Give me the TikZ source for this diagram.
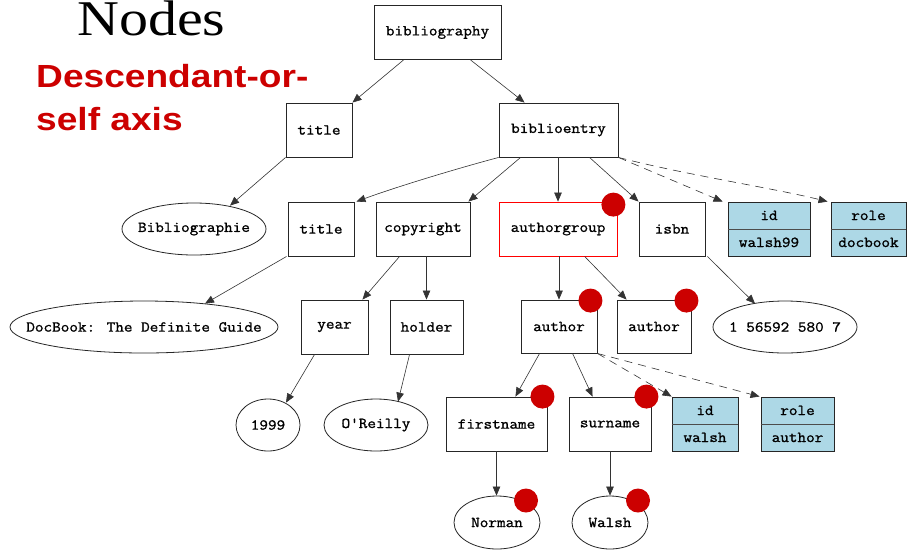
\documentclass[tikz,border=0pt]{standalone}
\usepackage{fontspec}
\usetikzlibrary{arrows.meta,shapes.geometric,calc}
\newfontfamily\codefont[FakeStretch=1.1,FakeBold=1.2]{Latin Modern Mono}
\newfontfamily\headfont[FakeStretch=1.16]{Liberation Serif}
\newfontfamily\axisfont[FakeStretch=1.16]{Liberation Sans}
\definecolor{axisred}{HTML}{CC0000}
\definecolor{attrblue}{HTML}{ADD8E6}
% two-row attribute record: name above, value below
\newcommand\attrrows[2]{\begin{tabular}{@{}c@{}}\rule[-9pt]{0pt}{27pt}#1\\\rule[-9pt]{0pt}{27pt}#2\end{tabular}}
% text in a zero-width box, so an ellipse takes only its given size
\newcommand\zerowide[1]{\makebox[0pt]{#1}}

\begin{document}
\begin{tikzpicture}[x=1pt,y=-1pt,
  every node/.style={font=\codefont\fontsize{15.2}{18}\selectfont},
  elem/.style={draw=black!85,line width=0.9pt,rectangle,inner sep=0pt,minimum height=54pt},
  textnode/.style={draw=black!85,line width=0.8pt,ellipse,inner sep=0pt,minimum height=52pt},
  attr/.style={elem,fill=attrblue},
  hitdot/.style={circle,fill=axisred,inner sep=0pt,minimum size=24pt},
  link/.style={draw=black!80,line width=0.6pt,-{Triangle[length=9pt,width=7.5pt]}},
  attrlink/.style={link,dash pattern=on 8pt off 6pt},
]
\useasboundingbox (0,0) rectangle (907,550);

% headings
\node[font=\headfont\fontsize{50}{56}\selectfont,anchor=base west,inner sep=0pt] (heading) at (77,35) {Nodes};
\node[font=\axisfont\bfseries\fontsize{32}{40}\selectfont,text=axisred,anchor=base west,inner sep=0pt] (axisa) at (36,87) {Descendant-or-};
\node[font=\axisfont\bfseries\fontsize{32}{40}\selectfont,text=axisred,anchor=base west,inner sep=0pt] (axisb) at (36,130) {self axis};

% element and text nodes
\node[elem,minimum width=127pt] (bib) at (437.5,32.5) {bibliography};
\node[elem,minimum width=66pt] (t1) at (319,130) {title};
\node[elem,minimum width=119pt] (be) at (558.5,130) {biblioentry};

\node[textnode,minimum width=144pt] (bibl) at (194,229) {\zerowide{Bibliographie}};
\node[elem,minimum width=66pt] (t2) at (321,229) {title};
\node[elem,minimum width=94pt] (cr) at (423,229) {copyright};
\node[elem,draw=red,line width=0.8pt,minimum width=118pt] (ag) at (558,229) {authorgroup};
\node[elem,minimum width=66pt] (isbn) at (672,229) {isbn};
\node[attr,minimum width=82pt] (id1) at (769,229) {\attrrows{id}{walsh99}};
\node[attr,minimum width=75pt] (role1) at (868.5,229) {\attrrows{role}{docbook}};

\node[textnode,minimum width=268pt] (dbg) at (144,327) {\zerowide{DocBook: The Definite Guide}};
\node[elem,minimum width=67pt] (year) at (334.5,327) {year};
\node[elem,minimum width=73pt] (holder) at (426.5,327) {holder};
\node[elem,minimum width=76pt,minimum height=53pt] (au1) at (559,326.5) {author};
\node[elem,minimum width=74pt,minimum height=53pt] (au2) at (654,326.5) {author};
\node[textnode,minimum width=144pt] (isbnv) at (785,327) {\zerowide{1 56592 580 7}};

\node[textnode,minimum width=64pt] (y1999) at (268,425) {\zerowide{1999}};
\node[textnode,minimum width=104pt] (oreilly) at (376,425) {\zerowide{O'Reilly}};
\node[elem,minimum width=101pt] (fn) at (496.5,424) {firstname};
\node[elem,minimum width=82pt] (sn) at (610,424) {surname};
\node[attr,minimum width=66pt] (id2) at (705,424) {\attrrows{id}{walsh}};
\node[attr,minimum width=73pt] (role2) at (797.5,424) {\attrrows{role}{author}};

\node[textnode,minimum width=86pt,minimum height=53pt] (norman) at (497,522.5) {\zerowide{Norman}};
\node[textnode,minimum width=76pt,minimum height=53pt] (walsh) at (610,522.5) {\zerowide{Walsh}};

% record dividers
\foreach \r in {id1,role1,id2,role2}
  \draw[draw=black!70,line width=0.8pt] (\r.west) -- (\r.east);

% child edges
\draw[link] ($(bib.south west)+(30,0)$) -- (t1.north east);
\draw[link] ($(bib.south west)+(97,0)$) -- ($(be.north west)+(26,0)$);
\draw[link] (t1.south west) -- ($(bibl.north)+(36,3)$);
\draw[link] (be.south west) .. controls ($(be.south west)+(-45,12)$) and ($(t2.north east)+(40,-14)$) .. ($(t2.north east)+(2,0)$);
\draw[link] ($(be.south west)+(22,0)$) -- ($(cr.north east)+(-2,0)$);
\draw[link] (be.south -| ag.north) -- (ag.north);
\draw[link] ($(be.south west)+(91,0)$) -- (isbn.north west);
\draw[attrlink] (be.south east) -- ($(id1.north west)+(-5,0)$);
\draw[attrlink] (be.south east) .. controls ($(be.south east)+(70,18)$) and ($(role1.north west)+(-60,-14)$) .. ($(role1.north west)+(-3,0)$);
\draw[link] ($(t2.south west)+(-1,0)$) -- ($(dbg.north)+(61,3)$);
\draw[link] ($(cr.south west)+(24,0)$) -- ($(year.north east)+(-6,0)$);
\draw[link] (cr.south -| holder.north) -- (holder.north);
\draw[link] (ag.south -| au1.north) -- (au1.north);
\draw[link] ($(ag.south west)+(86,0)$) -- ($(au2.north west)+(10,0)$);
\draw[link] ($(isbn.south east)+(2,0)$) -- ($(isbnv.north)+(-30,3)$);
\draw[link] ($(year.south west)+(14,0)$) -- ($(y1999.north)+(18,4)$);
\draw[link] ($(holder.south west)+(20,0)$) -- ($(oreilly.north)+(22,3)$);
\draw[link] ($(au1.south west)+(19,0)$) -- ($(fn.north east)+(-32,0)$);
\draw[link] ($(au1.south west)+(52,0)$) -- ($(sn.north west)+(24,0)$);
\draw[attrlink] (au1.south east) -- (id2.north west);
\draw[attrlink] (au1.south east) -- ($(role2.north west)+(-1,0)$);
\draw[link] (fn.south) -- (fn.south |- norman.north);
\draw[link] (sn.south) -- (sn.south |- walsh.north);

% nodes on the descendant-or-self axis
\node[hitdot] (agdot) at ($(ag.north east)+(-4,3)$) {};
\node[hitdot] (au1dot) at ($(au1.north east)+(-7,1)$) {};
\node[hitdot] (au2dot) at ($(au2.north east)+(-5,1)$) {};
\node[hitdot] (fndot) at ($(fn.north east)+(-5,0)$) {};
\node[hitdot] (sndot) at ($(sn.north east)+(-5,0)$) {};
\node[hitdot] (normandot) at ($(norman.center)+(29,-22)$) {};
\node[hitdot] (walshdot) at ($(walsh.center)+(28,-22)$) {};
\end{tikzpicture}
\end{document}
